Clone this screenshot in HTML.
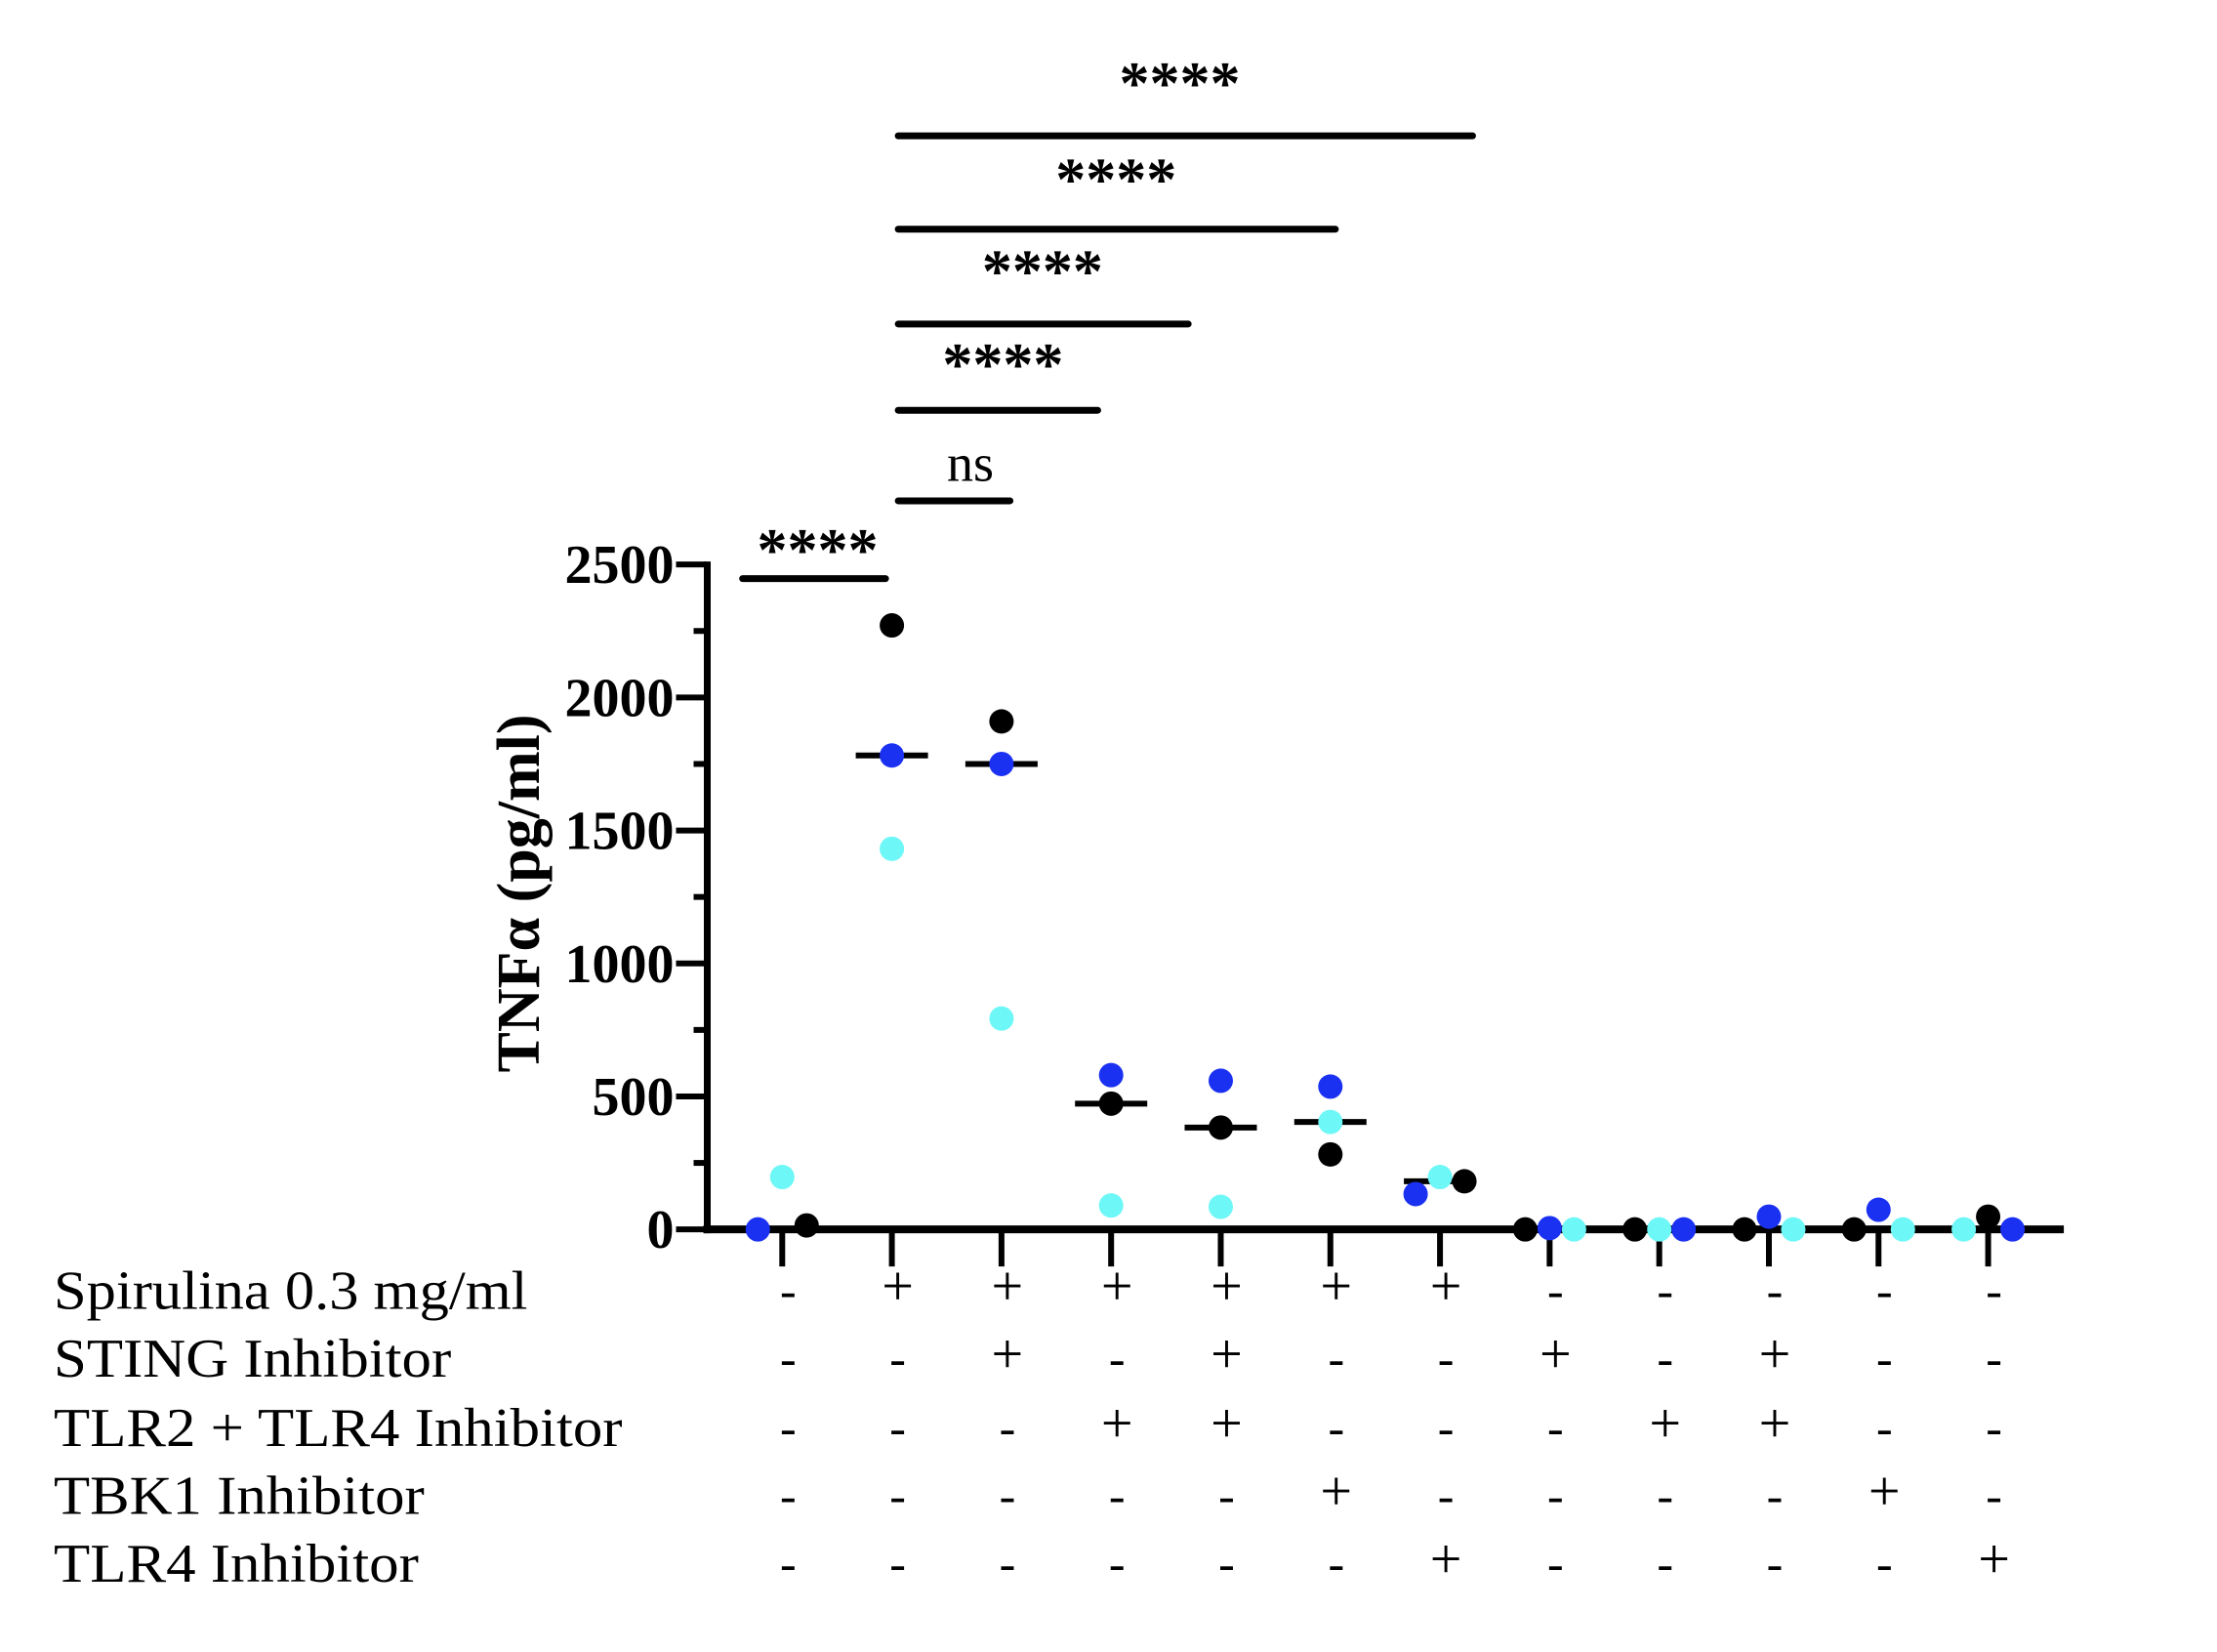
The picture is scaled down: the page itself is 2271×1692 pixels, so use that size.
<!DOCTYPE html>
<html><head><meta charset="utf-8"><style>
html,body{margin:0;padding:0;background:#fff;}
svg{display:block;font-family:"Liberation Serif",serif;}
</style></head><body>
<svg id="chart" width="2271" height="1692" viewBox="0 0 2271 1692" xmlns="http://www.w3.org/2000/svg">
<text transform="translate(552,915) rotate(-90)" text-anchor="middle" font-size="62" font-weight="bold">TNFα (pg/ml)</text>
</svg>
<script>
const S = 1.449;
const groups = ["G1","G2","G3","G4","G5","G6","G7","G8","G9","G10","G11","G12"];
const blackVals = [15,2271,1910,473,383,282,181,0,0,0,0,48];
const blueVals  = [0,1782,1750,580,559,537,133,5,0,48,74,0];
const cyanVals  = [197,1431,793,90,85,404,197,0,0,0,0,0];
const blackOff = [1,0,0,0,0,0,1,-1,-1,-1,-1,0];
const blueOff  = [-1,0,0,0,0,0,-1,0,1,0,0,1];
const cyanOff  = [0,0,0,0,0,0,0,1,0,1,1,-1];
const medians = [null,1782,1750,473,383,404,181,null,null,null,null,null];
const yTicks = [0,500,1000,1500,2000,2500];
const rowLabels = ["Spirulina 0.3 mg/ml","STING Inhibitor","TLR2 + TLR4 Inhibitor","TBK1 Inhibitor","TLR4 Inhibitor"];
const rowSigns = [
 "-++++++-----",
 "--+-+--+-+--",
 "---++---++--",
 "-----+----+-",
 "------+----+"
];
const sigLabels = ["****","ns","****","****","****","****"];

const svg = document.getElementById('chart');
const NS = "http://www.w3.org/2000/svg";
function mk(tag, attrs, parent){const e=document.createElementNS(NS,tag);for(const k in attrs)e.setAttribute(k,attrs[k]);(parent||svg).appendChild(e);return e;}
const y0 = 869*S, yTop = 399*S;
function yS(v){return y0 - v/2500*(y0-yTop);}
function xS(i){return (553 + i*77.5)*S;}
const axX = 500*S;

let e = mk('line',{x1:axX,y1:yS(2500)-3,x2:axX,y2:y0+4,stroke:'#000','stroke-width':7});


e = mk('line',{x1:axX-4,y1:y0,x2:1459*S,y2:y0,stroke:'#000','stroke-width':8});


for(let v=0;v<=2500;v+=250){
  const major = v%500===0;
  e = mk('line',{x1:axX-(major?32:14),y1:yS(v),x2:axX,y2:yS(v),stroke:'#000','stroke-width':6});
  
  
}
yTicks.forEach(v=>{
  const t = mk('text',{x:axX-34,y:yS(v)+19,'text-anchor':'end','font-size':56,'font-weight':'bold'});
  t.textContent = v;
  
  
});
groups.forEach((g,i)=>{
  e = mk('line',{x1:xS(i),y1:y0,x2:xS(i),y2:y0+38,stroke:'#000','stroke-width':6});
  
  
});
groups.forEach((g,i)=>{
  if(medians[i]===null) return;
  e = mk('line',{x1:xS(i)-37,y1:yS(medians[i]),x2:xS(i)+37,y2:yS(medians[i]),stroke:'#000','stroke-width':6});
  
  
});
function series(vals, offs, color, name){
  vals.forEach((v,i)=>{
    const c = mk('circle',{cx:xS(i)+offs[i]*25,cy:yS(v),r:12.5,fill:color});
    
    
  });
}
series(cyanVals,cyanOff,'#6ef7f7','point-cyan');
series(blueVals,blueOff,'#1b31f2','point-blue');
series(blackVals,blackOff,'#000','point-black');
const barY = [409,354,290,229,162,96];
const barX1 = [525,635,635,635,635,635];
const barX2 = [626,714,776,840,944,1041];
const labX = [578,686,709,737,789,834];
const labY = [403,340,272,206,141,73];
sigLabels.forEach((lab,k)=>{
  const yb = barY[k]*S;
  e = mk('line',{x1:barX1[k]*S,y1:yb,x2:barX2[k]*S,y2:yb,stroke:'#000','stroke-width':7,'stroke-linecap':'round'});
  
  
  const t = mk('text',{x:labX[k]*S,y:labY[k]*S,'text-anchor':'middle','font-size':lab==='ns'?54:62,'font-weight':lab==='ns'?'normal':'bold'});
  t.textContent = lab;
  
  
});
const rowBase = [925,973,1022,1070,1118];
const rowW = [335,281,402,262,258];
rowLabels.forEach((lab,r)=>{
  const t = mk('text',{x:38*S,y:rowBase[r]*S,'font-size':56,textLength:rowW[r]*S,lengthAdjust:'spacingAndGlyphs'});
  t.textContent = lab;
  
  
  for(let i=0;i<12;i++){
    const s = rowSigns[r][i];
    const st = mk('text',{x:xS(i)+6,y:rowBase[r]*S-(s==='+'?4:2),'text-anchor':'middle','font-size':s==='+'?58:50});
    st.textContent = s;
    
    
  }
});
</script>
</body></html>
